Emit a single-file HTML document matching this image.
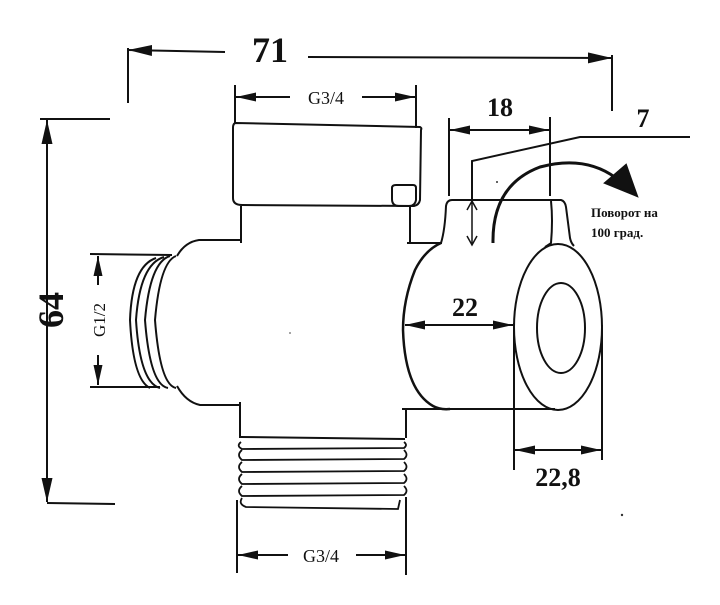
<!DOCTYPE html>
<html><head><meta charset="utf-8"><style>
html,body{margin:0;padding:0;background:#fff;}
svg{display:block;}
text{font-family:"Liberation Serif",serif;fill:#111;}
</style></head><body>
<svg width="720" height="605" viewBox="0 0 720 605" xmlns="http://www.w3.org/2000/svg">
<defs>
<marker id="a" viewBox="0 0 10 10" refX="10" refY="5" markerWidth="20" markerHeight="9" orient="auto-start-reverse" markerUnits="userSpaceOnUse" preserveAspectRatio="none"><path d="M0,0 L10,5 L0,10 z" fill="#111"/></marker>
<marker id="b" viewBox="0 0 10 10" refX="10" refY="5" markerWidth="24" markerHeight="11" orient="auto-start-reverse" markerUnits="userSpaceOnUse" preserveAspectRatio="none"><path d="M0,0 L10,5 L0,10 z" fill="#111"/></marker>
</defs>
<g stroke="#111" fill="none" stroke-width="2">
<!-- 71 -->
<line x1="128" y1="48" x2="128" y2="103"/>
<line x1="612" y1="55" x2="612" y2="111"/>
<line x1="128" y1="50" x2="225" y2="52" marker-start="url(#b)"/>
<line x1="308" y1="57" x2="612" y2="58" marker-end="url(#b)"/>
<!-- 64 -->
<line x1="40" y1="119" x2="110" y2="119"/>
<line x1="47" y1="503" x2="115" y2="504"/>
<line x1="47" y1="120" x2="47" y2="502" marker-start="url(#b)" marker-end="url(#b)"/>
<!-- top G3/4 -->
<line x1="235" y1="85" x2="235" y2="123"/>
<line x1="416" y1="85" x2="416" y2="128"/>
<line x1="236" y1="97" x2="290" y2="97" marker-start="url(#a)"/>
<line x1="362" y1="97" x2="415" y2="97" marker-end="url(#a)"/>
<!-- cap -->
<path d="M236,123 L420,127 Q422,128 421,130 L420,200 Q419,205 414,206 L242,205 Q233,205 233,198 L233,128 Q233,123 236,123 Z"/>
<path d="M392,188 Q392,185 396,185 L413,185 Q416,185 416,188 L416,200 Q415,206 409,206 L399,206 Q392,206 392,199 Z"/>
<!-- body -->
<line x1="241" y1="206" x2="241" y2="243"/>
<line x1="410" y1="206" x2="410" y2="243"/>
<path d="M241,240 L199,240 Q185,242 177,256"/>
<line x1="407" y1="243" x2="442" y2="243"/>
<path d="M177,386 Q186,402 200,405 L241,405"/>
<line x1="240" y1="402" x2="240" y2="438"/>
<line x1="406" y1="410" x2="406" y2="438"/>
<line x1="402" y1="409" x2="555" y2="409"/>
<!-- left thread -->
<path d="M176,256 Q160,262 155,320 Q160,385 176,388"/>
<path d="M170,256 Q150,262 145,320 Q150,385 168,388"/>
<path d="M164,257 Q140,264 136,320 Q140,383 160,388"/>
<path d="M156,258 Q132,266 130,320 Q133,380 150,388"/>
<!-- G1/2 dim -->
<line x1="90" y1="254" x2="172" y2="255"/>
<line x1="90" y1="387" x2="160" y2="387"/>
<line x1="98" y1="256" x2="98" y2="285" marker-start="url(#a)"/>
<line x1="98" y1="355" x2="98" y2="385" marker-end="url(#a)"/>
<!-- bottom thread -->
<path d="M241,437 L405,439"/>
<g stroke-width="1.8">
<path d="M241,442 Q236,446 242,449 L404,448 Q408,445 404,442"/>
<path d="M242,450 Q236,455 242,460 L404,459 Q409,455 404,450"/>
<path d="M242,462 Q236,467 242,472 L404,471 Q409,467 404,462"/>
<path d="M242,474 Q236,479 242,484 L404,483 Q409,479 404,474"/>
<path d="M242,486 Q236,491 242,496 L404,495 Q409,491 404,486"/>
<path d="M242,498 Q238,504 246,507 L398,509 L400,500"/>
</g>
<!-- bottom G3/4 -->
<line x1="237" y1="500" x2="237" y2="573"/>
<line x1="406" y1="497" x2="406" y2="575"/>
<line x1="238" y1="555" x2="288" y2="555" marker-start="url(#a)"/>
<line x1="356" y1="555" x2="405" y2="555" marker-end="url(#a)"/>
<!-- right knob -->
<path d="M441,243 Q445,230 446,206 Q447,200 452,200 L561,200 Q565,201 566,207 L570,238 Q571,243 574,246"/>
<path d="M551,201 Q553,220 551,243 Q550,244 545,247"/>
<path d="M441,243 Q425,250 415,270 Q403,300 403,330 Q405,390 433,406 Q440,410 450,409" stroke-width="2.5"/>
<ellipse cx="558" cy="327" rx="44" ry="83"/>
<ellipse cx="561" cy="328" rx="24" ry="45"/>
<!-- 18 -->
<line x1="449" y1="118" x2="449" y2="196"/>
<line x1="550" y1="117" x2="550" y2="196"/>
<line x1="450" y1="130" x2="549" y2="130" marker-start="url(#a)" marker-end="url(#a)"/>
<!-- 7 leader -->
<path d="M472,200 L472,161 L580,137 L690,137"/>
<line x1="472" y1="202" x2="472" y2="244" stroke-width="1.5"/>
<path d="M467,210 L472,201 L477,210 M467,236 L472,245 L477,236" stroke-width="1.5"/>
<!-- rotation arrow -->
<path d="M493,243 Q492,185 540,167 Q585,155 616,178" stroke-width="3"/>
<path d="M605,183 L626,165 L637,196 Z" fill="#111"/>
<!-- 22 -->
<line x1="405" y1="325" x2="513" y2="325" marker-start="url(#a)" marker-end="url(#a)"/>
<!-- 22,8 -->
<line x1="514" y1="323" x2="514" y2="470"/>
<line x1="602" y1="325" x2="602" y2="460"/>
<line x1="515" y1="450" x2="601" y2="450" marker-start="url(#a)" marker-end="url(#a)"/>
</g>
<circle cx="622" cy="515" r="1.2" fill="#333"/>
<circle cx="290" cy="333" r="1" fill="#888"/>
<circle cx="497" cy="182" r="1" fill="#333"/>
<text x="270" y="62" font-size="36" font-weight="bold" text-anchor="middle">71</text>
<text transform="translate(63,310) rotate(-90)" font-size="36" font-weight="bold" text-anchor="middle">64</text>
<text x="326" y="104" font-size="18" text-anchor="middle">G3/4</text>
<text x="321" y="562" font-size="18" text-anchor="middle">G3/4</text>
<text transform="translate(105,320) rotate(-90)" font-size="17" text-anchor="middle">G1/2</text>
<text x="500" y="116" font-size="26" font-weight="bold" text-anchor="middle">18</text>
<text x="643" y="127" font-size="26" font-weight="bold" text-anchor="middle">7</text>
<text x="465" y="316" font-size="26" font-weight="bold" text-anchor="middle">22</text>
<text x="558" y="486" font-size="26" font-weight="bold" text-anchor="middle">22,8</text>
<text x="591" y="217" font-size="13" font-weight="bold">Поворот  на</text>
<text x="591" y="237" font-size="13" font-weight="bold">100 град.</text>
</svg>
</body></html>
